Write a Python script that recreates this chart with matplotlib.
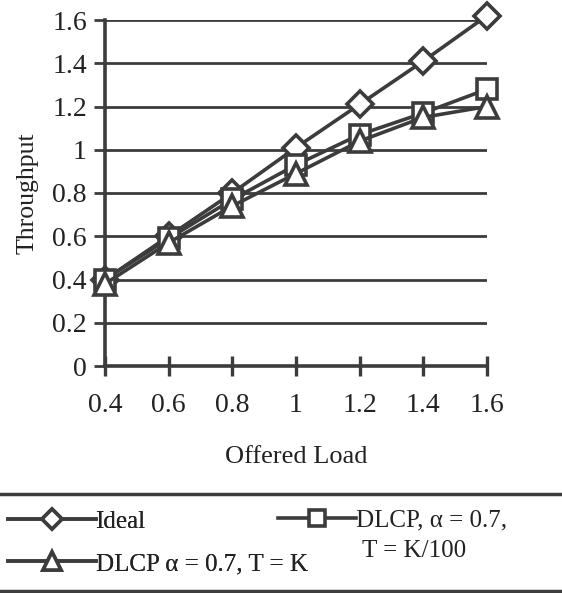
import matplotlib
matplotlib.use("Agg")
import matplotlib.pyplot as plt
from matplotlib.lines import Line2D

# data
offered_load = [0.4, 0.6, 0.8, 1.0, 1.2, 1.4, 1.6]
ideal = [0.40, 0.60, 0.80, 1.01, 1.21, 1.41, 1.62]
dlcp_k100 = [0.40, 0.59, 0.77, 0.93, 1.07, 1.17, 1.28]
dlcp_k = [0.38, 0.57, 0.74, 0.89, 1.04, 1.15, 1.20]
yticks = [0, 0.2, 0.4, 0.6, 0.8, 1.0, 1.2, 1.4, 1.6]
ytick_labels = ["0", "0.2", "0.4", "0.6", "0.8", "1", "1.2", "1.4", "1.6"]
xtick_labels = ["0.4", "0.6", "0.8", "1", "1.2", "1.4", "1.6"]

plt.rcParams['font.family'] = ['Liberation Serif', 'DejaVu Serif']
ink = '#3c3c3c'
txt = '#222222'

fig = plt.figure(figsize=(5.62, 5.93), dpi=100)
ax = fig.add_axes([105 / 562, 1 - 366 / 593, 382 / 562, 346 / 593])

style = dict(color=ink, lw=2.6, markerfacecolor='white',
             markeredgecolor=ink, markeredgewidth=2.6, clip_on=False, zorder=3)
l1, = ax.plot(offered_load, ideal, marker='D', markersize=13, **style)
l3, = ax.plot(offered_load, dlcp_k100, marker='s', markersize=15, **style)
l2, = ax.plot(offered_load, dlcp_k, marker='^', markersize=16, **style)

ax.set_xlim(0.4, 1.6)
ax.set_ylim(0, 1.6)
ax.set_xticks(offered_load)
ax.set_xticklabels(xtick_labels)
ax.set_yticks(yticks)
ax.set_yticklabels(ytick_labels)
ax.grid(True, axis='y', color=ink, lw=2.0)
ax.set_axisbelow(True)

for s in ['top', 'right']:
    ax.spines[s].set_visible(False)
for s in ['left', 'bottom']:
    ax.spines[s].set_color(ink)
    ax.spines[s].set_linewidth(2.6)
ax.tick_params(axis='y', direction='out', length=8, width=2, colors=ink,
               labelcolor=txt, labelsize=20, pad=5)
ax.tick_params(axis='x', direction='inout', length=15, width=2.4, colors=ink,
               labelcolor=txt, labelsize=20, pad=12)

ax.set_ylabel('Throughput', fontsize=18.5, color=txt, labelpad=10)
ax.set_xlabel('Offered Load', fontsize=19, color=txt, labelpad=20)

# legend strip with rules above and below
fig.add_artist(Line2D([0, 1], [1 - 494 / 593] * 2, color=ink, lw=2.5, transform=fig.transFigure))
fig.add_artist(Line2D([0, 1], [1 - 591 / 593] * 2, color=ink, lw=2.5, transform=fig.transFigure))
leg_kw = dict(frameon=False, fontsize=18, handletextpad=0.0, borderpad=0,
              borderaxespad=0, labelcolor=txt, markerscale=0.8)
leg1 = fig.legend([l1, l2], ['Ideal', 'DLCP α = 0.7, T = K'], loc='upper left',
                  bbox_to_anchor=(8 / 562, 1 - 510 / 593), handlelength=3.5,
                  labelspacing=0.8, **leg_kw)
fig.legend([l3], ['DLCP, α = 0.7,'], loc='upper left',
           bbox_to_anchor=(278 / 562, 1 - 509 / 593), handlelength=3.1, **leg_kw)
fig.add_artist(leg1)
fig.text(362 / 562, 1 - 551 / 593, 'T = K/100', fontsize=18, color=txt, va='center')

fig.savefig('out.png', dpi=100, facecolor='white')
